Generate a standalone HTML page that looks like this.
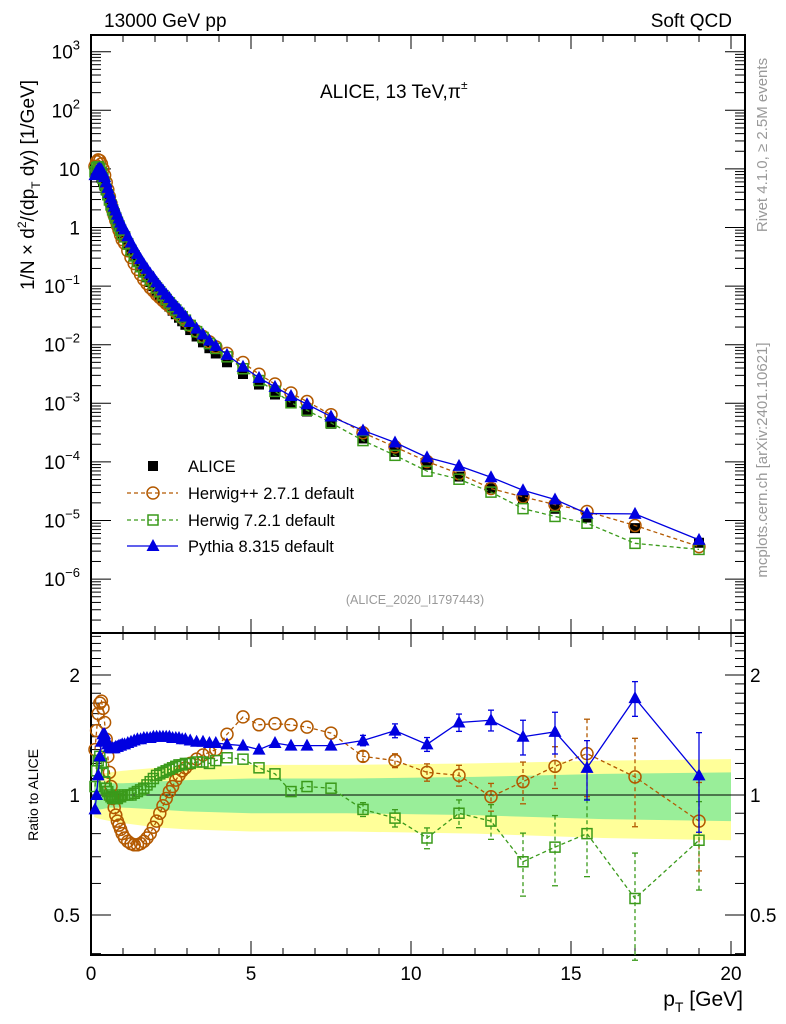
<!DOCTYPE html>
<html><head><meta charset="utf-8"><style>
html,body{margin:0;padding:0;background:#fff;}
svg{display:block;font-family:"Liberation Sans",sans-serif;}
</style></head><body>
<svg id="c" width="786" height="1024" xmlns="http://www.w3.org/2000/svg">
<g id="bands"></g>
<g id="axes"></g>
<g id="series"></g>
<text x="104" y="27" font-size="19">13000 GeV pp</text>
<text x="732" y="27" font-size="19" text-anchor="end">Soft QCD</text>
<text x="320" y="98" font-size="19">ALICE, 13 TeV,π<tspan font-size="12" dy="-9">±</tspan></text>
<text x="415" y="604" font-size="12.5" fill="#999" text-anchor="middle">(ALICE_2020_I1797443)</text>
<text transform="translate(767,145) rotate(-90)" font-size="15" fill="#999" text-anchor="middle">Rivet 4.1.0, ≥ 2.5M events</text>
<text transform="translate(767,460) rotate(-90)" font-size="15" fill="#999" text-anchor="middle">mcplots.cern.ch [arXiv:2401.10621]</text>
<text transform="translate(34,185) rotate(-90)" font-size="19" text-anchor="middle">1/N × d<tspan font-size="12" dy="-8">2</tspan><tspan dy="8">/(dp</tspan><tspan font-size="12" dy="6">T</tspan><tspan dy="-6"> dy) [1/GeV]</tspan></text>
<text transform="translate(38,795) rotate(-90)" font-size="14" text-anchor="middle">Ratio to ALICE</text>
<text x="743" y="1006" font-size="21" text-anchor="end">p<tspan font-size="14" dy="6">T</tspan><tspan dy="-6"> [GeV]</tspan></text>
<g id="legend"></g>
</svg>
<script>
const pT=[0.125,0.175,0.225,0.275,0.325,0.375,0.425,0.475,0.525,0.575,0.625,0.675,0.725,0.775,0.825,0.875,0.925,0.975,
1.05,1.15,1.25,1.35,1.45,1.55,1.65,1.75,1.85,1.95,2.05,2.15,2.25,2.35,2.45,2.55,2.65,2.75,2.85,2.95,
3.1,3.3,3.5,3.7,3.9,4.25,4.75,5.25,5.75,6.25,6.75,7.5,8.5,9.5,10.5,11.5,12.5,13.5,14.5,15.5,17,19];
const aliceLog=[0.93,0.96,0.95,0.91,0.85,0.78,0.71,0.63,0.55,0.47,0.39,0.31,0.24,0.17,0.10,0.03,-0.04,-0.11,
-0.16,-0.28,-0.39,-0.49,-0.59,-0.68,-0.77,-0.85,-0.93,-1.0,-1.08,-1.15,-1.22,-1.29,-1.35,-1.42,-1.48,-1.54,-1.60,-1.66,
-1.75,-1.86,-1.96,-2.06,-2.15,-2.30,-2.50,-2.68,-2.85,-3.0,-3.14,-3.35,-3.6,-3.83,-4.05,-4.25,-4.45,-4.63,-4.8,-4.95,-5.13,-5.38];
const herwigppRatio=[1.3,1.45,1.6,1.7,1.72,1.65,1.52,1.38,1.25,1.14,1.05,0.98,0.93,0.89,0.86,0.84,0.82,0.80,
0.78,0.765,0.755,0.75,0.75,0.755,0.765,0.78,0.80,0.83,0.86,0.9,0.94,0.98,1.02,1.05,1.09,1.12,1.15,1.17,
1.2,1.23,1.26,1.28,1.3,1.42,1.57,1.5,1.51,1.5,1.48,1.43,1.25,1.22,1.14,1.12,0.99,1.08,1.18,1.27,1.11,0.86];
const herwig7Ratio=[1.05,1.15,1.22,1.25,1.2,1.14,1.08,1.04,1.02,1.0,0.99,0.98,0.98,0.98,0.98,0.99,0.99,1.0,
1.0,1.0,1.0,1.01,1.02,1.03,1.04,1.06,1.08,1.1,1.12,1.13,1.14,1.15,1.16,1.17,1.18,1.19,1.19,1.2,
1.2,1.21,1.21,1.2,1.22,1.24,1.23,1.17,1.13,1.02,1.05,1.04,0.92,0.875,0.78,0.9,0.86,0.68,0.74,0.8,0.55,0.77];
const pythiaRatio=[0.92,1.0,1.12,1.25,1.36,1.42,1.42,1.38,1.34,1.32,1.31,1.31,1.31,1.32,1.32,1.33,1.33,1.34,
1.34,1.35,1.36,1.37,1.38,1.38,1.39,1.39,1.39,1.40,1.40,1.40,1.40,1.40,1.40,1.39,1.39,1.39,1.38,1.38,
1.37,1.36,1.36,1.35,1.35,1.34,1.33,1.3,1.35,1.33,1.33,1.33,1.37,1.45,1.34,1.52,1.54,1.40,1.44,1.17,1.75,1.12];
// relative MC uncertainties (only visible at high pT)
const errPts=[8.5,9.5,10.5,11.5,12.5,13.5,14.5,15.5,17,19];
const herwigppErr=[0.03,0.04,0.05,0.06,0.08,0.12,0.12,0.22,0.25,0.25];
const herwig7Err=[0.04,0.05,0.06,0.08,0.1,0.18,0.2,0.22,0.3,0.25];
const pythiaErr=[0.03,0.04,0.04,0.05,0.06,0.1,0.12,0.17,0.1,0.28];
const bandPts=[0.1,0.3,0.6,1,2,3,5,8,12,16,20];
const greenHalf=[0.08,0.08,0.07,0.07,0.08,0.09,0.1,0.1,0.11,0.13,0.14];
const yellowHalf=[0.12,0.13,0.14,0.15,0.17,0.18,0.19,0.19,0.2,0.22,0.23];
const yTicksMain=[3,2,1,0,-1,-2,-3,-4,-5,-6];
const xTicks=[0,5,10,15,20];
const ratioTicks=[0.5,1,2];

const NS="http://www.w3.org/2000/svg";
const L=91,R=745,T=35,MB=633,RB=955;
const X=v=>L+v*32;
const Y=lg=>227.5-lg*58.6;
const YR=r=>795-120*Math.log2(r);
function mk(tag,at,parent){const e=document.createElementNS(NS,tag);for(const k in at)e.setAttribute(k,at[k]);parent.appendChild(e);return e;}
const ax=document.getElementById('axes'),se=document.getElementById('series'),bd=document.getElementById('bands'),lg=document.getElementById('legend');

function bandPath(h){let up='',dn='';for(let i=0;i<bandPts.length;i++){const x=Math.min(X(bandPts[i]),X(20));up+=(i?'L':'M')+x+','+YR(1+h[i]);}for(let i=bandPts.length-1;i>=0;i--){dn+='L'+Math.min(X(bandPts[i]),X(20))+','+YR(1-h[i]);}return up+dn+'Z';}
let b1=mk('path',{d:bandPath(yellowHalf),fill:'#ffff99'},bd);


let b2=mk('path',{d:bandPath(greenHalf),fill:'#99ee99'},bd);


let one=mk('line',{x1:L,x2:X(20),y1:YR(1),y2:YR(1),stroke:'#000','stroke-width':1},bd);



let f1=mk('rect',{x:L,y:T,width:R-L,height:MB-T,fill:'none',stroke:'#000','stroke-width':2},ax);


let f2=mk('rect',{x:L,y:MB,width:R-L,height:RB-MB,fill:'none',stroke:'#000','stroke-width':2},ax);


for(let v=0;v<=20.4;v+=1){const x=X(v);const maj=(v%5===0);const len=maj?14:7;
 for(const [y0,d] of [[T,1],[MB,-1],[MB,1],[RB,-1]]){let t=mk('line',{x1:x,x2:x,y1:y0,y2:y0+d*len,stroke:'#000','stroke-width':1},ax);}}
xTicks.forEach(v=>{let t=mk('text',{x:X(v),y:980,'font-size':19,'text-anchor':'middle'},ax);t.textContent=v;});
for(let d=-7;d<=3;d++){for(let m=1;m<10;m++){const lgv=d+Math.log10(m);const y=Y(lgv);if(y<T||y>MB)continue;const len=m===1?20:10;
 let t1=mk('line',{x1:L,x2:L+len,y1:y,y2:y,stroke:'#000','stroke-width':1},ax);
 let t2=mk('line',{x1:R,x2:R-len,y1:y,y2:y,stroke:'#000','stroke-width':1},ax);}}
yTicksMain.forEach(d=>{const y=Y(d)+7;let t=mk('text',{x:80,y:y,'font-size':19,'text-anchor':'end'},ax);
 
 if(d===0)t.textContent='1';else if(d===1)t.textContent='10';else{t.textContent='10';let s=mk('tspan',{'font-size':13,dy:-9},t);s.textContent=String(d).replace('-','−');}});
for(let r=0.4;r<=2.55;r+=0.1){const y=YR(r);if(y<MB||y>RB)continue;const maj=[0.5,1,2].some(q=>Math.abs(q-r)<1e-6);const len=maj?20:10;
 let t1=mk('line',{x1:L,x2:L+len,y1:y,y2:y,stroke:'#000','stroke-width':1},ax);
 let t2=mk('line',{x1:R,x2:R-len,y1:y,y2:y,stroke:'#000','stroke-width':1},ax);}
ratioTicks.forEach(r=>{for(const [x,a] of [[80,'end'],[750,'start']]){let t=mk('text',{x:x,y:YR(r)+7,'font-size':19,'text-anchor':a},ax);t.textContent=r;}});

function marker(kind,x,y,col,g){let e;
 if(kind==='sq')e=mk('rect',{x:x-5,y:y-5,width:10,height:10,fill:'#000'},g);
 else if(kind==='osq')e=mk('rect',{x:x-5,y:y-5,width:10,height:10,fill:'none',stroke:col,'stroke-width':1.5},g);
 else if(kind==='oc')e=mk('circle',{cx:x,cy:y,r:6,fill:'none',stroke:col,'stroke-width':1.5},g);
 else e=mk('path',{d:`M${x},${y-7}L${x+6.5},${y+5}L${x-6.5},${y+5}Z`,fill:col},g);
 return e;}
const series=[
 {name:'herwigpp',r:herwigppRatio,e:herwigppErr,col:'#b35900',kind:'oc',dash:'4,3'},
 {name:'herwig7',r:herwig7Ratio,e:herwig7Err,col:'#3a9a1a',kind:'osq',dash:'4,3'},
 {name:'pythia',r:pythiaRatio,e:pythiaErr,col:'#0000e0',kind:'tri',dash:''}];
const gD=mk('g',{},se);


pT.forEach((p,i)=>{let m=marker('sq',X(p),Y(aliceLog[i]),'#000',gD);});
series.forEach(s=>{
 const gm=mk('g',{},se);
 
 
 const ptsM=pT.map((p,i)=>[X(p),Y(aliceLog[i]+Math.log10(s.r[i]))]);
 const ptsR=pT.map((p,i)=>[X(p),YR(s.r[i])]);
 for(const pts of [ptsM,ptsR]){let pl=mk('polyline',{points:pts.map(q=>q.join(',')).join(' '),fill:'none',stroke:s.col,'stroke-width':1.3,'stroke-dasharray':s.dash},gm);}
 errPts.forEach((p,j)=>{const i=pT.indexOf(p);const r=s.r[i];let el=mk('line',{x1:X(p),x2:X(p),y1:YR(r*(1+s.e[j])),y2:YR(r*(1-s.e[j])),stroke:s.col,'stroke-width':1.3,'stroke-dasharray':s.dash},gm);
  for(const f of [1+s.e[j],1-s.e[j]]){let c=mk('line',{x1:X(p)-3,x2:X(p)+3,y1:YR(r*f),y2:YR(r*f),stroke:s.col,'stroke-width':1.3},gm);}});
 for(const pts of [ptsM,ptsR])pts.forEach(q=>{let m=marker(s.kind,q[0],q[1],s.col,gm);});
});
const leg=[['ALICE','sq','#000',null,466],['Herwig++ 2.7.1 default','oc','#b35900','4,3',493],['Herwig 7.2.1 default','osq','#3a9a1a','4,3',520],['Pythia 8.315 default','tri','#0000e0','',546]];
leg.forEach(e=>{const g=mk('g',{},lg);
 if(e[3]!==null){mk('line',{x1:127,x2:178,y1:e[4],y2:e[4],stroke:e[2],'stroke-width':1.3,'stroke-dasharray':e[3]},g);}
 marker(e[1],153,e[4],e[2],g);
 let t=mk('text',{x:188,y:e[4]+6,'font-size':16.5},g);t.textContent=e[0];});
</script>
</body></html>
